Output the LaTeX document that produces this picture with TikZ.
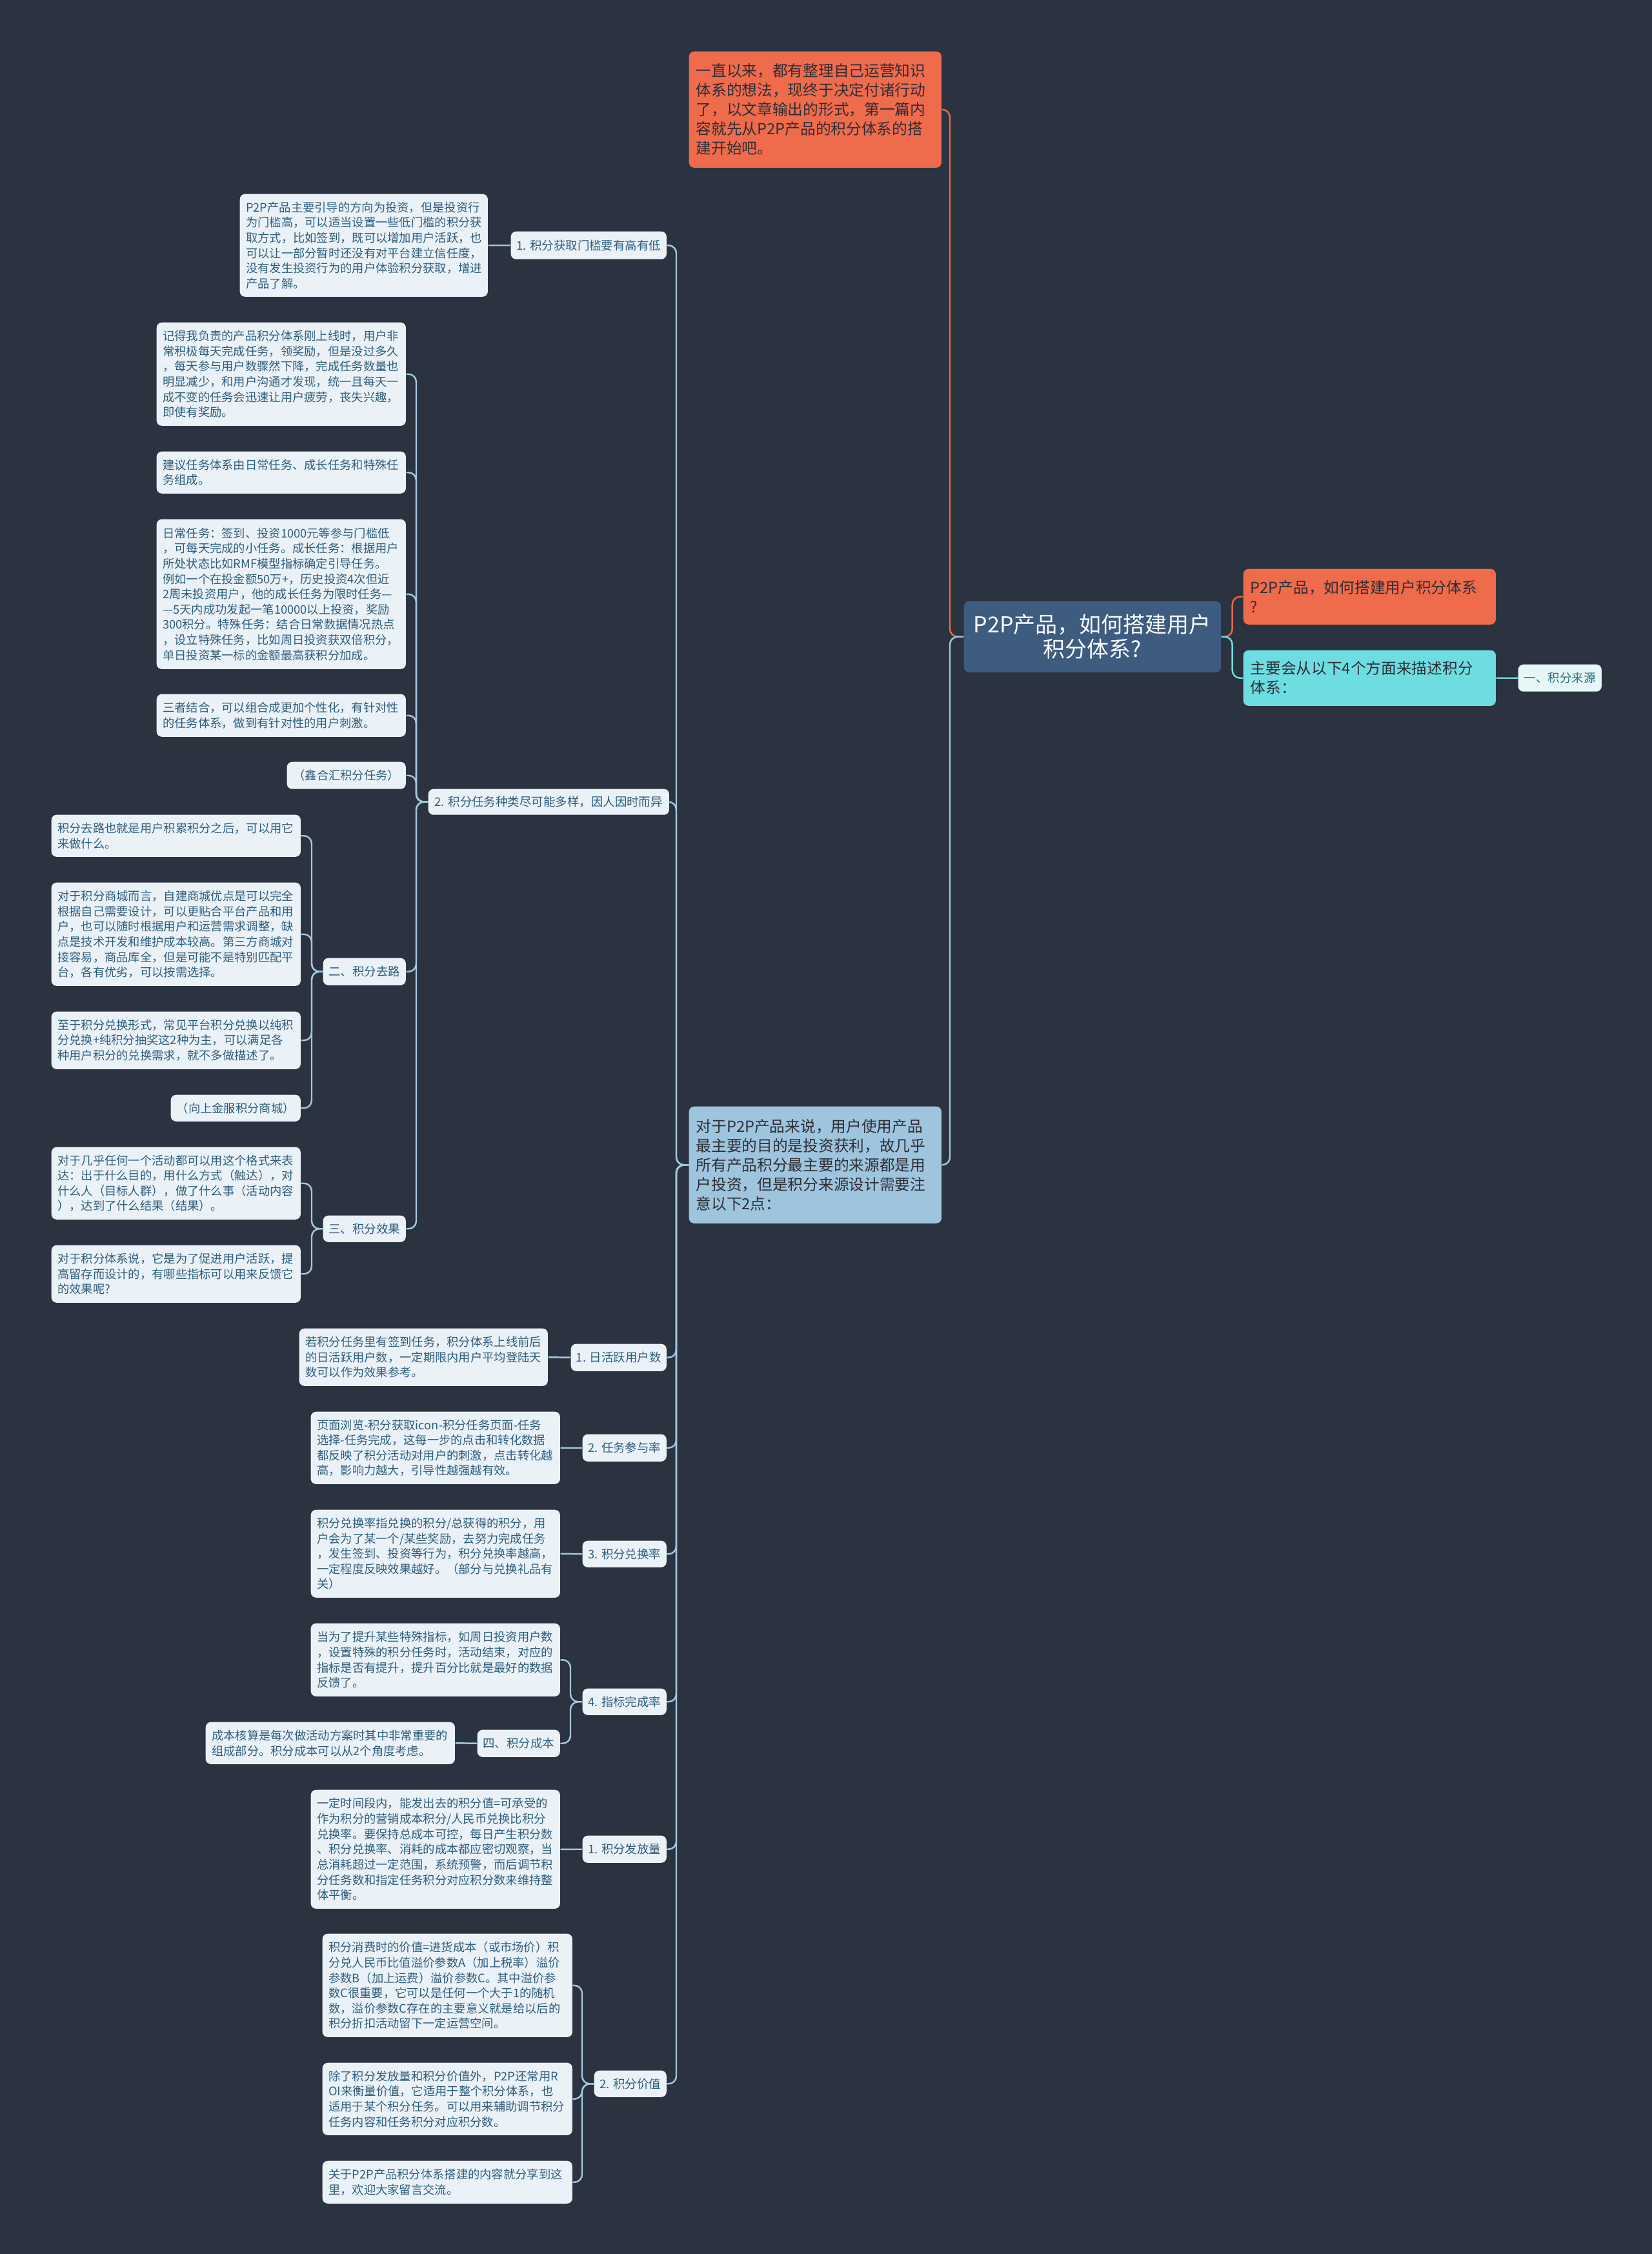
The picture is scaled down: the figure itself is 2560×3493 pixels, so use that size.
\documentclass[tikz,border=0pt]{standalone}
\usepackage{fontspec}
\newfontfamily\cjk{Noto Sans CJK SC}
\definecolor{bg}{HTML}{2B3240}
\definecolor{lightfill}{HTML}{EAF2F8}
\definecolor{bodytext}{HTML}{2F5D7C}
\definecolor{connc}{HTML}{A3C8E0}
\definecolor{orangefill}{HTML}{EE6B4C}
\definecolor{orangeline}{HTML}{E8694A}
\definecolor{cyanfill}{HTML}{6EDDE2}
\definecolor{rootfill}{HTML}{3E5B80}
\definecolor{srcfill}{HTML}{9FC4DE}
\definecolor{darktext}{HTML}{2E2E36}
\definecolor{s1fill}{HTML}{E6F7F8}
\definecolor{s1text}{HTML}{2A6E7A}
\begin{document}
\begin{tikzpicture}[x=0.01cm,y=-0.01cm,
  base/.style={anchor=north west, rounded corners=0.08cm, inner ysep=1pt},
  body/.style={base, fill=lightfill, text=bodytext, font=\cjk\fontsize{5.2}{6.72}\selectfont, align=left, inner xsep=0.095cm},
  lab/.style={base, fill=lightfill, text=bodytext, font=\cjk\fontsize{5.25}{6.72}\selectfont, align=center, inner xsep=0pt},
  big/.style={base, font=\cjk\fontsize{6.74}{8.54}\selectfont, align=left, inner xsep=0.11cm, text width=3.69cm, text=darktext},
  conn/.style={draw=connc, line width=0.7pt, rounded corners=0.12cm},
  connO/.style={conn, draw=orangeline},
  connC/.style={conn, draw=cyanfill}]
\fill[bg] (0,0) rectangle (2560,3493);
\useasboundingbox (0,0) rectangle (2560,3493);

% root and right side
\node[base, fill=rootfill, text=white, font=\cjk\fontsize{9.67}{10.8}\selectfont, align=center, minimum width=3.98cm, minimum height=1.10cm] (root) at (1493,931) {P2P产品，如何搭建用户\\积分体系?};
\node[big, fill=orangefill, minimum height=0.86cm] (q) at (1926,881) {P2P产品，如何搭建用户积分体系\\?};
\node[big, fill=cyanfill, minimum height=0.86cm] (main) at (1926,1007) {主要会从以下4个方面来描述积分\\体系：};
\node[lab, fill=s1fill, text=s1text, minimum width=1.29cm, minimum height=0.42cm] (s1) at (2352,1029) {一、积分来源};

% left big boxes
\node[big, fill=orangefill, minimum height=1.80cm] (intro) at (1067,79) {一直以来，都有整理自己运营知识\\体系的想法，现终于决定付诸行动\\了，以文章输出的形式，第一篇内\\容就先从P2P产品的积分体系的搭\\建开始吧。};
\node[big, fill=srcfill, minimum height=1.81cm] (src) at (1067,1714) {对于P2P产品来说，用户使用产品\\最主要的目的是投资获利，故几乎\\所有产品积分最主要的来源都是用\\户投资，但是积分来源设计需要注\\意以下2点：};

% labels
\node[lab, minimum width=2.41cm, minimum height=0.43cm] (L1) at (791,358) {1. 积分获取门槛要有高有低};
\node[lab, minimum width=3.73cm, minimum height=0.40cm] (L2) at (663,1222) {2. 积分任务种类尽可能多样，因人因时而异};
\node[lab, minimum width=1.28cm, minimum height=0.42cm] (Lql) at (500,1484) {二、积分去路};
\node[lab, minimum width=1.28cm, minimum height=0.41cm] (Lxg) at (500,1883) {三、积分效果};
\node[lab, minimum width=1.48cm, minimum height=0.42cm] (Ldau) at (884,2082) {1. 日活跃用户数};
\node[lab, minimum width=1.30cm, minimum height=0.42cm] (Lcy) at (902,2222) {2. 任务参与率};
\node[lab, minimum width=1.30cm, minimum height=0.41cm] (Ldh) at (902,2387) {3. 积分兑换率};
\node[lab, minimum width=1.30cm, minimum height=0.41cm] (Lzb) at (902,2616) {4. 指标完成率};
\node[lab, minimum width=1.28cm, minimum height=0.42cm] (Lcb) at (739,2680) {四、积分成本};
\node[lab, minimum width=1.30cm, minimum height=0.42cm] (Lff) at (902,2844) {1. 积分发放量};
\node[lab, minimum width=1.12cm, minimum height=0.41cm] (Ljz) at (920,3208) {2. 积分价值};

% body nodes
\node[body, text width=3.65cm, minimum height=1.59cm] (bp2p) at (371,300) {P2P产品主要引导的方向为投资，但是投资行\\为门槛高，可以适当设置一些低门槛的积分获\\取方式，比如签到，既可以增加用户活跃，也\\可以让一部分暂时还没有对平台建立信任度，\\没有发生投资行为的用户体验积分获取，增进\\产品了解。};
\node[body, text width=3.67cm, minimum height=1.60cm] (bjd) at (242,499) {记得我负责的产品积分体系刚上线时，用户非\\常积极每天完成任务，领奖励，但是没过多久\\，每天参与用户数骤然下降，完成任务数量也\\明显减少，和用户沟通才发现，统一且每天一\\成不变的任务会迅速让用户疲劳，丧失兴趣，\\即使有奖励。};
\node[body, text width=3.67cm, minimum height=0.65cm] (bjy) at (242,699) {建议任务体系由日常任务、成长任务和特殊任\\务组成。};
\node[body, text width=3.67cm, minimum height=2.32cm] (brc) at (242,804) {日常任务：签到、投资1000元等参与门槛低\\，可每天完成的小任务。成长任务：根据用户\\所处状态比如RMF模型指标确定引导任务。\\例如一个在投金额50万+，历史投资4次但近\\2周未投资用户，他的成长任务为限时任务—\\—5天内成功发起一笔10000以上投资，奖励\\300积分。特殊任务：结合日常数据情况热点\\，设立特殊任务，比如周日投资获双倍积分，\\单日投资某一标的金额最高获积分加成。};
\node[body, text width=3.67cm, minimum height=0.66cm] (bsz) at (242,1075) {三者结合，可以组合成更加个性化，有针对性\\的任务体系，做到有针对性的用户刺激。};
\node[lab, font=\cjk\fontsize{5.2}{6.72}\selectfont, minimum width=1.84cm, minimum height=0.42cm] (bxhh) at (444,1180) {（鑫合汇积分任务）};
\node[body, text width=3.67cm, minimum height=0.65cm] (bql) at (79,1262) {积分去路也就是用户积累积分之后，可以用它\\来做什么。};
\node[body, text width=3.67cm, minimum height=1.60cm] (bsc) at (79,1367) {对于积分商城而言，自建商城优点是可以完全\\根据自己需要设计，可以更贴合平台产品和用\\户，也可以随时根据用户和运营需求调整，缺\\点是技术开发和维护成本较高。第三方商城对\\接容易，商品库全，但是可能不是特别匹配平\\台，各有优劣，可以按需选择。};
\node[body, text width=3.67cm, minimum height=0.89cm] (bdhxs) at (79,1567) {至于积分兑换形式，常见平台积分兑换以纯积\\分兑换+纯积分抽奖这2种为主，可以满足各\\种用户积分的兑换需求，就不多做描述了。};
\node[lab, font=\cjk\fontsize{5.2}{6.72}\selectfont, minimum width=2.01cm, minimum height=0.41cm] (bxs) at (264,1696) {（向上金服积分商城）};
\node[body, text width=3.67cm, minimum height=1.12cm] (bhd) at (79,1777) {对于几乎任何一个活动都可以用这个格式来表\\达：出于什么目的，用什么方式（触达），对\\什么人（目标人群），做了什么事（活动内容\\），达到了什么结果（结果）。};
\node[body, text width=3.67cm, minimum height=0.89cm] (btx) at (79,1929) {对于积分体系说，它是为了促进用户活跃，提\\高留存而设计的，有哪些指标可以用来反馈它\\的效果呢?};
\node[body, text width=3.66cm, minimum height=0.89cm] (brh) at (463,2058) {若积分任务里有签到任务，积分体系上线前后\\的日活跃用户数，一定期限内用户平均登陆天\\数可以作为效果参考。};
\node[body, text width=3.67cm, minimum height=1.12cm] (bym) at (481,2187) {页面浏览-积分获取icon-积分任务页面-任务\\选择-任务完成，这每一步的点击和转化数据\\都反映了积分活动对用户的刺激，点击转化越\\高，影响力越大，引导性越强越有效。};
\node[body, text width=3.67cm, minimum height=1.36cm] (bdhl) at (481,2339) {积分兑换率指兑换的积分/总获得的积分，用\\户会为了某一个/某些奖励，去努力完成任务\\，发生签到、投资等行为，积分兑换率越高，\\一定程度反映效果越好。（部分与兑换礼品有\\关）};
\node[body, text width=3.67cm, minimum height=1.13cm] (bts) at (481,2515) {当为了提升某些特殊指标，如周日投资用户数\\，设置特殊的积分任务时，活动结束，对应的\\指标是否有提升，提升百分比就是最好的数据\\反馈了。};
\node[body, text width=3.67cm, minimum height=0.65cm] (bcbhs) at (318,2668) {成本核算是每次做活动方案时其中非常重要的\\组成部分。积分成本可以从2个角度考虑。};
\node[body, text width=3.67cm, minimum height=1.84cm] (byd) at (481,2773) {一定时间段内，能发出去的积分值=可承受的\\作为积分的营销成本积分/人民币兑换比积分\\兑换率。要保持总成本可控，每日产生积分数\\、积分兑换率、消耗的成本都应密切观察，当\\总消耗超过一定范围，系统预警，而后调节积\\分任务数和指定任务积分对应积分数来维持整\\体平衡。};
\node[body, text width=3.68cm, minimum height=1.60cm] (bxf) at (499,2996) {积分消费时的价值=进货成本（或市场价）积\\分兑人民币比值溢价参数A（加上税率）溢价\\参数B（加上运费）溢价参数C。其中溢价参\\数C很重要，它可以是任何一个大于1的随机\\数，溢价参数C存在的主要意义就是给以后的\\积分折扣活动留下一定运营空间。};
\node[body, text width=3.68cm, minimum height=1.12cm] (bcl) at (499,3196) {除了积分发放量和积分价值外，P2P还常用R\\OI来衡量价值，它适用于整个积分体系，也\\适用于某个积分任务。可以用来辅助调节积分\\任务内容和任务积分对应积分数。};
\node[body, text width=3.68cm, minimum height=0.66cm] (bgy) at (499,3348) {关于P2P产品积分体系搭建的内容就分享到这\\里，欢迎大家留言交流。};

% connectors: root
\draw[connO] (root.west) -- ++(-21,0) |- (intro.east);
\draw[conn] (root.west) -- ++(-21,0) |- (src.east);
\draw[connO] (root.east) -- ++(17,0) |- (q.west);
\draw[connC] (root.east) -- ++(17,0) |- (main.west);
\draw[connC] (main.east) -- (s1.west);

% src children
\foreach \c in {L1,L2,Ldau,Lcy,Ldh,Lzb,Lff,Ljz}
  \draw[conn] (src.west) -- ++(-19,0) |- (\c.east);

\draw[conn] (L1.west) -- (bp2p.east);
\foreach \c in {bjd,bjy,brc,bsz,bxhh,Lql,Lxg}
  \draw[conn] (L2.west) -- ++(-18,0) |- (\c.east);
\foreach \c in {bql,bsc,bdhxs,bxs}
  \draw[conn] (Lql.west) -- ++(-17,0) |- (\c.east);
\foreach \c in {bhd,btx}
  \draw[conn] (Lxg.west) -- ++(-17,0) |- (\c.east);
\draw[conn] (Ldau.west) -- (brh.east);
\draw[conn] (Lcy.west) -- (bym.east);
\draw[conn] (Ldh.west) -- (bdhl.east);
\foreach \c in {bts,Lcb}
  \draw[conn] (Lzb.west) -- ++(-18,0) |- (\c.east);
\draw[conn] (Lcb.west) -- (bcbhs.east);
\draw[conn] (Lff.west) -- (byd.east);
\foreach \c in {bxf,bcl,bgy}
  \draw[conn] (Ljz.west) -- ++(-18,0) |- (\c.east);
\end{tikzpicture}
\end{document}
